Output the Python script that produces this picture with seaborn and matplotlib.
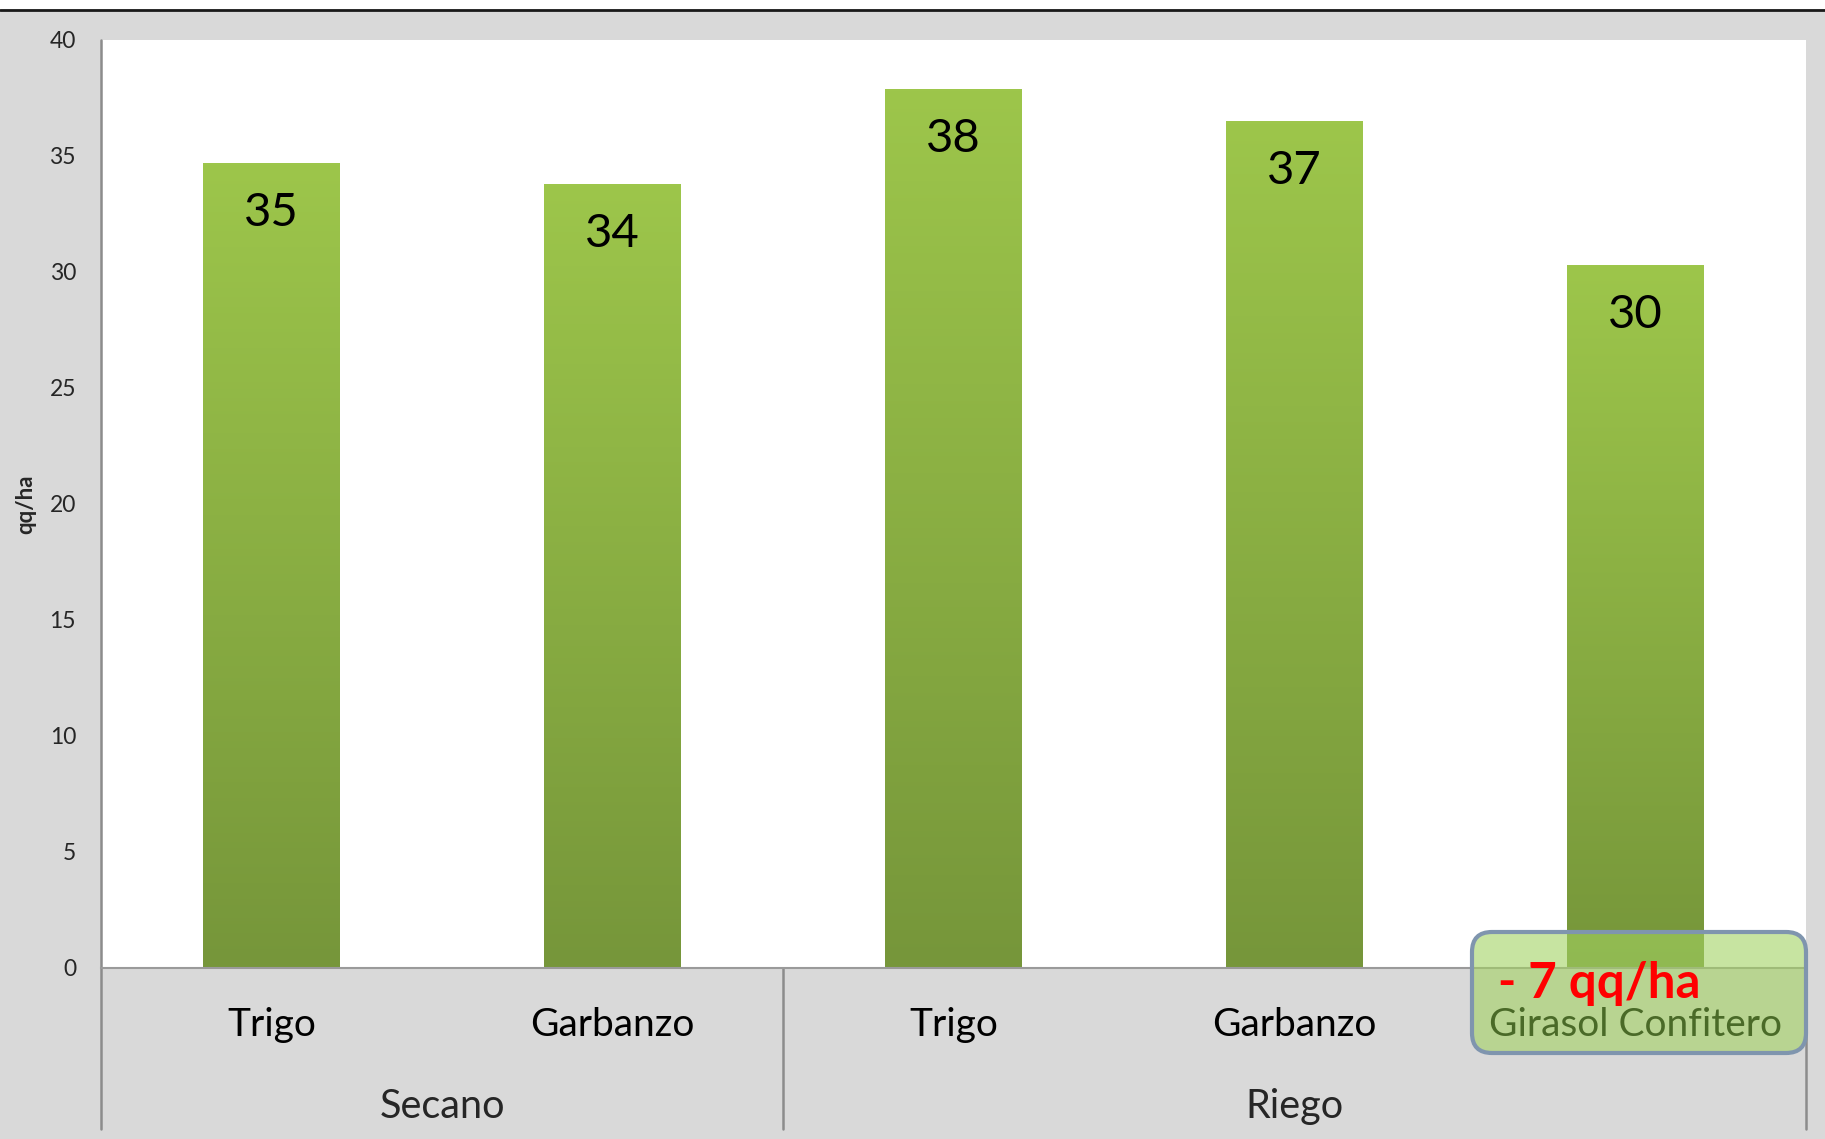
import numpy as np
import pandas as pd
import matplotlib
matplotlib.use("Agg")
import matplotlib.pyplot as plt
import seaborn as sns
from matplotlib.colors import LinearSegmentedColormap
from matplotlib.patches import FancyBboxPatch, Rectangle
from matplotlib.lines import Line2D
from matplotlib.transforms import blended_transform_factory

# data
grupos = ['Secano', 'Secano', 'Riego', 'Riego', 'Riego']
cultivos = ['Trigo', 'Garbanzo', 'Trigo', 'Garbanzo', 'Girasol Confitero']
rendimiento = [34.7, 33.8, 37.9, 36.5, 30.3]
etiquetas = ['35', '34', '38', '37', '30']
grupo_nombres = ['Secano', 'Riego']
y_ticks = [0, 5, 10, 15, 20, 25, 30, 35, 40]
nota = '- 7 qq/ha'

df = pd.DataFrame({'grupo': grupos, 'cultivo': cultivos, 'qq_ha': rendimiento})
df['clave'] = df['grupo'] + ' ' + df['cultivo']

sns.set_style('white')
plt.rcParams['font.family'] = ['Lato', 'DejaVu Sans']

W, H = 1825, 1139
fig = plt.figure(figsize=(W / 100, H / 100), dpi=100)
fig.patch.set_facecolor('#D9D9D9')

# top white strip with dark rule
fig.add_artist(Rectangle((0, 1 - 9 / H), 1, 9 / H, transform=fig.transFigure,
                         facecolor='white', edgecolor='none'))
fig.add_artist(Line2D([0, 1], [1 - 10 / H, 1 - 10 / H], transform=fig.transFigure,
                      color='#1a1a1a', lw=2))

ax = fig.add_axes([101 / W, 1 - 968 / H, (1806 - 101) / W, (968 - 40) / H])
ax.set_facecolor('white')

sns.barplot(data=df, x='clave', y='qq_ha', color='#8CB043', width=0.4,
            saturation=1, ax=ax, errorbar=None)

# gradient fill for each bar
cmap = LinearSegmentedColormap.from_list('verde', ['#76963A', '#9DC64B'])
grad = np.linspace(0, 1, 256).reshape(-1, 1)
for p in ax.patches:
    x0, w, h = p.get_x(), p.get_width(), p.get_height()
    im = ax.imshow(grad, cmap=cmap, origin='lower', aspect='auto',
                   extent=[x0, x0 + w, 0, h], zorder=2)
    im.set_clip_path(p)
    p.set_facecolor('none')
    p.set_edgecolor('none')

ax.set_xlim(-0.5, 4.5)
ax.set_ylim(0, 40)

# value labels inside bars
for i, (v, lbl) in enumerate(zip(rendimiento, etiquetas)):
    ax.annotate(lbl, (i, v), xytext=(0, -36), textcoords='offset points',
                ha='center', va='center', fontsize=34, color='black', zorder=4)

# axes styling
for s in ['top', 'right']:
    ax.spines[s].set_visible(False)
ax.spines['bottom'].set_color('#9A9A9A')
ax.spines['bottom'].set_linewidth(1.5)
ax.spines['left'].set_visible(False)
ax.set_yticks(y_ticks)
ax.tick_params(axis='y', length=0, pad=18, labelsize=16.5)
ax.set_xticks([])
ax.set_xlabel('')
ax.set_ylabel('qq/ha', fontsize=16, fontweight='bold')
ax.yaxis.set_label_coords(-0.038, 0.5)

# category and group labels below the axis
tr = blended_transform_factory(ax.transData, ax.transAxes)
for i, c in enumerate(cultivos):
    col = '#4A6A28' if c == 'Girasol Confitero' else 'black'
    ax.text(i, -0.061, c, transform=tr, ha='center', va='center', fontsize=28,
            color=col, clip_on=False, zorder=7)
ax.text(0.5, -0.149, grupo_nombres[0], transform=tr, ha='center', va='center',
        fontsize=28.5, clip_on=False)
ax.text(3.0, -0.149, grupo_nombres[1], transform=tr, ha='center', va='center',
        fontsize=28.5, clip_on=False)

# axis and group separator lines
ax.add_line(Line2D([-0.5, -0.5], [1, -0.173], transform=tr, color='#8C8C8C',
                   lw=1.8, clip_on=False))
for xs in [1.5, 4.5]:
    ax.add_line(Line2D([xs, xs], [0, -0.173], transform=tr, color='#8C8C8C',
                       lw=1.8, clip_on=False))

# highlight box over girasol
caja = FancyBboxPatch((14.72, 0.86), 3.34, 1.21,
                      boxstyle='round,pad=0,rounding_size=0.2',
                      transform=fig.dpi_scale_trans, facecolor='#A3D262',
                      alpha=0.6, edgecolor='none', clip_on=False, zorder=5)
ax.add_patch(caja)
borde = FancyBboxPatch((14.72, 0.86), 3.34, 1.21,
                       boxstyle='round,pad=0,rounding_size=0.2',
                       transform=fig.dpi_scale_trans, facecolor='none',
                       edgecolor='#7F95AE', lw=3, clip_on=False, zorder=6)
ax.add_patch(borde)
ax.text(14.98, 1.56, nota, transform=fig.dpi_scale_trans, ha='left', va='center',
        fontsize=35.5, fontweight='bold', color='#FF0000', clip_on=False, zorder=8)

ax.set_xlim(-0.5, 4.5)
ax.set_ylim(0, 40)

plt.savefig('out.png', dpi=100, facecolor=fig.get_facecolor())
